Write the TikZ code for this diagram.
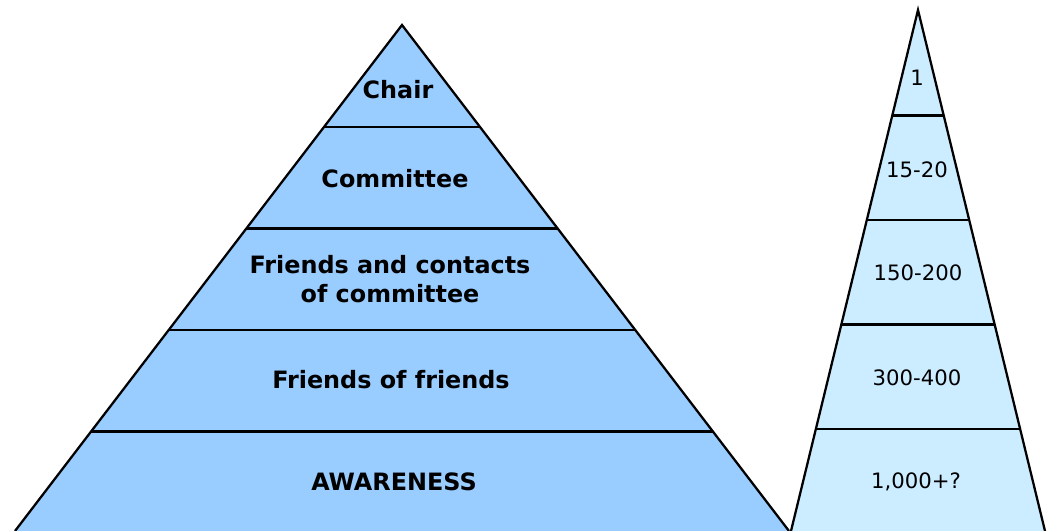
\documentclass[tikz,border=0pt]{standalone}
\usepackage{fontspec}
\setmainfont{DejaVu Sans}
\usetikzlibrary{calc}
\definecolor{tierblue}{HTML}{99CCFF}
\definecolor{countblue}{HTML}{CCECFF}
\tikzset{
  outline/.style={draw=black, line width=1.7pt, line join=miter},
  divider/.style={draw=black, line width=1.7pt},
  tierlabel/.style={font=\fontsize{17.9}{22}\selectfont\bfseries, align=center, inner sep=0pt},
  countlabel/.style={font=\fontsize{15.9}{19}\selectfont, inner sep=0pt}
}
\begin{document}
\begin{tikzpicture}[x=0.75pt, y=-0.75pt]
  \useasboundingbox (0,0) rectangle (1050,531);
  \begin{scope}
    \clip (0,0) rectangle (1050,531);
    % Tier pyramid
    \coordinate (LA) at (402,25);
    \coordinate (LL) at (15,531);
    \coordinate (LR) at (789,531);
    \path[fill=tierblue, outline] (LL) -- (LA) -- (LR);
    \foreach \t in {0.2016,0.4022,0.6028,0.8034}
      \draw[divider] ($(LA)!\t!(LL)$) -- ($(LA)!\t!(LR)$);
    % Head-count pyramid
    \coordinate (RA) at (918,10);
    \coordinate (RL) at (791,531);
    \coordinate (RR) at (1045,531);
    \path[fill=countblue, outline] (RL) -- (RA) -- (RR);
    \foreach \t in {0.2025,0.4030,0.6036,0.8040}
      \draw[divider] ($(RA)!\t!(RL)$) -- ($(RA)!\t!(RR)$);
  \end{scope}
  % Tier labels
  \node[tierlabel] (chair) at (398,90) {Chair};
  \node[tierlabel] (committee) at (395,179) {Committee};
  \node[tierlabel] (contacts) at (390,279) {Friends and contacts\\of committee};
  \node[tierlabel] (fof) at (391,380) {Friends of friends};
  \node[tierlabel] (awareness) at (394,482) {AWARENESS};
  % Head-count labels
  \node[countlabel] (n1) at (917,78) {1};
  \node[countlabel] (n2) at (917,170) {15-20};
  \node[countlabel] (n3) at (918,273) {150-200};
  \node[countlabel] (n4) at (917,378) {300-400};
  \node[countlabel] (n5) at (916,482) {1,000+?};
\end{tikzpicture}
\end{document}
